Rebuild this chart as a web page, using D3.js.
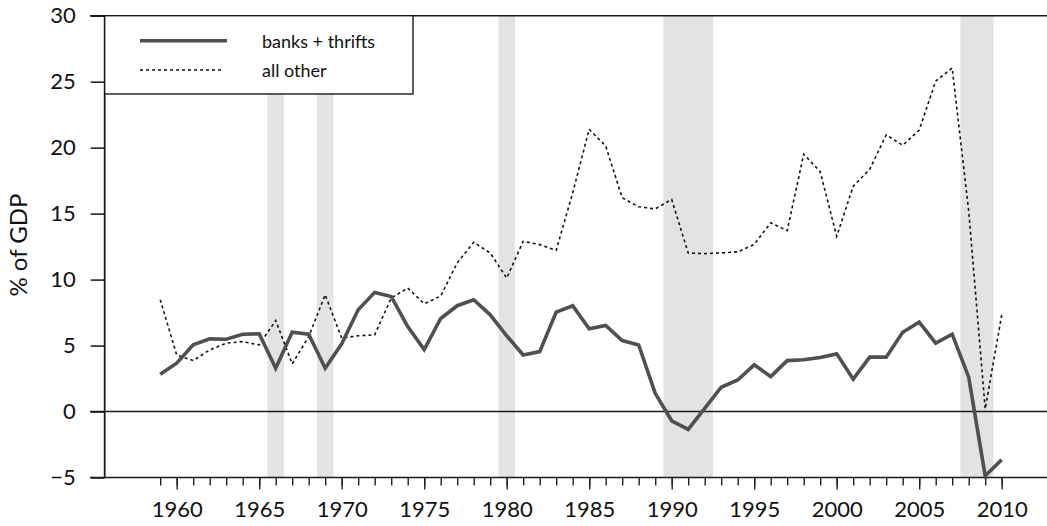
<!DOCTYPE html>
<html>
<head>
<meta charset="utf-8">
<script src="https://cdn.jsdelivr.net/npm/d3@7/dist/d3.min.js"></script>
<style>
  html, body { margin: 0; padding: 0; background: #fff; }
  svg { display: block; }
  text { font-family: Lato, "Open Sans", sans-serif; fill: #111; }
</style>
</head>
<body>
<svg id="chart" width="1047" height="526"></svg>
<script>
// ---- data ----
const years = [1959,1960,1961,1962,1963,1964,1965,1966,1967,1968,1969,1970,1971,1972,1973,1974,1975,1976,1977,1978,1979,1980,1981,1982,1983,1984,1985,1986,1987,1988,1989,1990,1991,1992,1993,1994,1995,1996,1997,1998,1999,2000,2001,2002,2003,2004,2005,2006,2007,2008,2009,2010];
const banksThrifts = [2.83,3.66,5.05,5.51,5.48,5.86,5.89,3.28,6.02,5.86,3.28,5.13,7.71,9.03,8.72,6.44,4.70,7.05,8.02,8.47,7.33,5.74,4.29,4.54,7.54,8.02,6.27,6.52,5.38,5.05,1.38,-0.70,-1.35,0.24,1.84,2.39,3.54,2.65,3.86,3.92,4.09,4.37,2.45,4.12,4.12,6.01,6.77,5.18,5.86,2.60,-4.87,-3.66];
const allOther = [8.47,4.29,3.86,4.67,5.18,5.30,5.05,6.90,3.61,5.68,8.85,5.56,5.74,5.81,8.60,9.36,8.17,8.75,11.26,12.83,12.02,10.12,12.90,12.65,12.22,16.58,21.39,20.12,16.20,15.52,15.36,16.07,12.02,11.97,12.02,12.10,12.67,14.30,13.71,19.50,18.18,13.28,17.08,18.35,20.97,20.18,21.33,25.04,26.03,15.20,0.20,7.30];
const recessions = [[1966,1966],[1969,1969],[1980,1980],[1990,1992],[2008,2009]];
const yTicks = [-5,0,5,10,15,20,25,30];
const xLabelYears = [1960,1965,1970,1975,1980,1985,1990,1995,2000,2005,2010];
const seriesNames = ["banks + thrifts", "all other"];

// ---- layout ----
const svg = d3.select("#chart");
const axisX = 104.7, frameLeft = 90, frameRight = 1047;
const x = d3.scaleLinear().domain([1960, 2010]).range([176.7, 1001.7]);
const y = d3.scaleLinear().domain([-5, 30]).range([477.5, 15.7]);

// recession bands
svg.append("g").selectAll("rect").data(recessions).enter().append("rect")
  .attr("x", d => x(d[0] - 0.5))
  .attr("width", d => x(d[1] + 0.5) - x(d[0] - 0.5))
  .attr("y", y(30))
  .attr("height", y(-5) - y(30))
  .attr("fill", "#e3e3e3");

// y axis
const yAxis = d3.axisLeft(y).tickValues(yTicks).tickSize(14).tickPadding(15).tickFormat(d3.format("d"));
const gy = svg.append("g").attr("transform", `translate(${axisX},0)`).call(yAxis);
gy.select(".domain").remove();
gy.selectAll(".tick line").attr("stroke", "#222").attr("stroke-width", 1.6);
gy.selectAll(".tick text").style("font-size", "22px").style("font-family", "Lato, sans-serif").attr("fill", "#111");

// horizontal frame lines at 30, 0, -5
svg.append("g").selectAll("line").data([30, 0, -5]).enter().append("line")
  .attr("x1", frameLeft).attr("x2", frameRight)
  .attr("y1", d => y(d)).attr("y2", d => y(d))
  .attr("stroke", "#1a1a1a").attr("stroke-width", 1.6);

// vertical y axis line
svg.append("line").attr("x1", axisX).attr("x2", axisX)
  .attr("y1", y(30)).attr("y2", y(-5))
  .attr("stroke", "#1a1a1a").attr("stroke-width", 1.8);

// x axis ticks (every year), labels every 5
const xAxisMinor = d3.axisBottom(x).tickValues(years).tickSize(8).tickFormat("");
const gxm = svg.append("g").attr("transform", `translate(0,${y(-5)})`).call(xAxisMinor);
gxm.select(".domain").remove();
gxm.selectAll(".tick line").attr("stroke", "#222").attr("stroke-width", 1.4);
const xAxisMajor = d3.axisBottom(x).tickValues(xLabelYears).tickSize(12).tickPadding(12).tickFormat(d3.format("d"));
const gxM = svg.append("g").attr("transform", `translate(0,${y(-5)})`).call(xAxisMajor);
gxM.select(".domain").remove();
gxM.selectAll(".tick line").attr("stroke", "#222").attr("stroke-width", 1.4);
gxM.selectAll(".tick text").style("font-size", "22px").style("font-family", "Lato, sans-serif").attr("fill", "#111");

// lines
const pts = vals => vals.map((v, i) => [years[i], v]);
const line = d3.line().x(d => x(d[0])).y(d => y(d[1]));
svg.append("path").datum(pts(allOther)).attr("d", line)
  .attr("fill", "none").attr("stroke", "#111").attr("stroke-width", 1.6)
  .attr("stroke-dasharray", "3,3");
svg.append("path").datum(pts(banksThrifts)).attr("d", line)
  .attr("fill", "none").attr("stroke", "#505050").attr("stroke-width", 3.6)
  .attr("stroke-linejoin", "miter");

// legend
const lg = svg.append("g");
lg.append("rect").attr("x", axisX).attr("y", y(30)).attr("width", 413 - axisX).attr("height", 94 - y(30))
  .attr("fill", "#fff").attr("stroke", "#1a1a1a").attr("stroke-width", 1.4);
lg.append("line").attr("x1", 140).attr("x2", 227).attr("y1", 40.7).attr("y2", 40.7)
  .attr("stroke", "#505050").attr("stroke-width", 3.6);
lg.append("line").attr("x1", 140).attr("x2", 224).attr("y1", 70).attr("y2", 70)
  .attr("stroke", "#111").attr("stroke-width", 1.6).attr("stroke-dasharray", "3,3");
lg.append("text").attr("x", 262).attr("y", 48).text(seriesNames[0]).style("font-size", "18px");
lg.append("text").attr("x", 262).attr("y", 77).text(seriesNames[1]).style("font-size", "18px");

// y label
svg.append("text").attr("transform", "translate(27,245) rotate(-90)")
  .attr("text-anchor", "middle").style("font-size", "24px").text("% of GDP");
</script>
</body>
</html>
